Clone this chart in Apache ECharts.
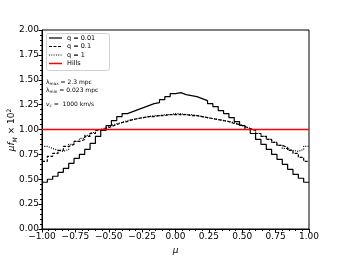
<!DOCTYPE html>
<html><head><meta charset="utf-8">
<script src="https://cdn.jsdelivr.net/npm/echarts@6/dist/echarts.min.js"></script>
<style>html,body{margin:0;padding:0;background:#fff}#c{width:344px;height:258px}</style>
</head><body><div id="c"></div>
<script>
// Histogram: 50 bins on mu in [-1, 1]
const muMin = -1, muMax = 1;
const xTicks = [-1.00, -0.75, -0.50, -0.25, 0.00, 0.25, 0.50, 0.75, 1.00];
const yTicks = [0.00, 0.25, 0.50, 0.75, 1.00, 1.25, 1.50, 1.75, 2.00];
const seriesNames = ['q = 0.01', 'q = 0.1', 'q = 1', 'Hills'];
const q001 = [0.47,0.50,0.53,0.57,0.61,0.66,0.71,0.75,0.80,0.86,
              0.93,0.99,1.04,1.09,1.13,1.16,1.18,1.20,1.22,1.24,
              1.26,1.27,1.30,1.33,1.36,1.37,1.35,1.34,1.33,1.31,
              1.29,1.26,1.23,1.19,1.16,1.12,1.08,1.04,1.00,0.96,
              0.90,0.85,0.80,0.75,0.70,0.65,0.60,0.55,0.51,0.47];
const q01 = [0.68,0.73,0.76,0.79,0.83,0.85,0.88,0.90,0.93,0.96,
             0.99,1.01,1.03,1.05,1.07,1.08,1.10,1.11,1.12,1.13,
             1.13,1.14,1.14,1.15,1.15,1.15,1.15,1.14,1.14,1.13,
             1.12,1.11,1.10,1.09,1.08,1.06,1.05,1.03,1.01,0.99,
             0.96,0.93,0.90,0.87,0.84,0.82,0.79,0.76,0.72,0.68];
const q1 = [0.83,0.81,0.79,0.78,0.80,0.85,0.88,0.91,0.94,0.97,
            1.00,1.02,1.04,1.06,1.07,1.09,1.10,1.11,1.12,1.13,
            1.14,1.14,1.15,1.15,1.16,1.16,1.15,1.15,1.14,1.13,
            1.12,1.11,1.10,1.09,1.08,1.07,1.05,1.03,1.01,0.99,
            0.96,0.93,0.90,0.87,0.84,0.81,0.79,0.78,0.80,0.83];
const hillsValue = 1.0;
const annotations = ['{l|λ}{s|max}{t| = 2.3 mpc}', '{l|λ}{s|min}{t| = 0.023 mpc}', '{v|v}{s|c}{t| =  1000 km/s}'];
const yLabel = '{a|μf}{s|M}{b| × 10}{p|2}';

const seriesColors = ['#000000', '#000000', '#000000', 'rgb(255,0,0)'];
const seriesDash = ['solid', [3,1.5], [1,1.3], 'solid'];

function stepData(vals){
  const w = (muMax - muMin) / vals.length;
  const d = vals.map((v,i)=>[muMin + i*w, v]);
  d.push([muMax, vals[vals.length-1]]);
  return d;
}
const fmt = v => { const s = Math.abs(v).toFixed(2); return v < 0 ? '\u2212' + s : s; };
const font = 'DejaVu Sans';
const chart = echarts.init(document.getElementById('c'), null, {renderer:'canvas'});
const lineBase = {type:'line', step:'end', symbol:'none', showSymbol:false, animation:false};

// manual legend (box + samples + labels)
const legendX = 46, legendY = 33, rowH = 8.5;
const legendGraphics = [{type:'rect', shape:{x:legendX+0.5, y:legendY+0.5, width:63, height:37, r:2},
  style:{fill:'rgba(255,255,255,0.8)', stroke:'#d0d0d0', lineWidth:1}, z:10}];
seriesNames.forEach((n,i)=>{
  const yy = legendY + 5 + i*rowH;
  legendGraphics.push({type:'line', shape:{x1:legendX+3, y1:yy, x2:legendX+16, y2:yy},
    style:{stroke:seriesColors[i], lineWidth:i===3?1.5:1.2, lineDash: seriesDash[i]==='solid'?null:seriesDash[i]}, z:11});
  legendGraphics.push({type:'text', x:legendX+21, y:yy, style:{text:n, fontSize:6.5, fontFamily:font, fill:'#000', verticalAlign:'middle'}, z:11});
});

chart.setOption({
  animation:false,
  color:seriesColors,
  textStyle:{fontFamily:font},
  grid:{left:42, right:35, top:30, bottom:29, show:true, borderColor:'#000', borderWidth:1, containLabel:false, outerBoundsMode:'none'},
  xAxis:{type:'value', min:muMin, max:muMax, interval:0.25,
    name:'μ', nameLocation:'middle', nameGap:16,
    nameTextStyle:{fontSize:9, fontStyle:'italic', fontFamily:font, color:'#000'},
    axisLine:{onZero:false, lineStyle:{color:'#000', width:1}},
    axisTick:{show:true, length:3.5, lineStyle:{color:'#000'}},
    minorTick:{show:true, splitNumber:5, length:2, lineStyle:{color:'#000'}},
    splitLine:{show:false},
    axisLabel:{fontSize:9, color:'#000', margin:3, formatter:v=>fmt(v), fontFamily:font}
  },
  yAxis:{type:'value', min:0, max:2, interval:0.25,
    axisLine:{show:true, onZero:false, lineStyle:{color:'#000', width:1}},
    axisTick:{show:true, length:3.5, lineStyle:{color:'#000'}},
    minorTick:{show:true, splitNumber:5, length:2, lineStyle:{color:'#000'}},
    splitLine:{show:false},
    axisLabel:{fontSize:9, color:'#000', margin:3, formatter:v=>fmt(v), fontFamily:font}
  },
  graphic:legendGraphics.concat([
    {type:'text', x:12, y:130, rotation:Math.PI/2, style:{text:yLabel, align:'center', verticalAlign:'middle', fill:'#000', rich:{
      a:{fontSize:9, fontFamily:font, fontStyle:'italic', lineHeight:12},
      b:{fontSize:9, fontFamily:font, lineHeight:12},
      s:{fontSize:6, fontFamily:font, fontStyle:'italic', lineHeight:12, verticalAlign:'bottom'},
      p:{fontSize:6, fontFamily:font, lineHeight:12, verticalAlign:'top'}}}},
    {type:'text', left:46, top:79, style:{text:annotations[0]+'\n'+annotations[1], rich:{
      l:{fontSize:6, fontFamily:font, lineHeight:8}, v:{fontSize:6, fontFamily:font, fontStyle:'italic', lineHeight:8},
      s:{fontSize:4.2, fontFamily:font, lineHeight:8, verticalAlign:'bottom'}, t:{fontSize:6, fontFamily:font, lineHeight:8}}, fill:'#000'}},
    {type:'text', left:46, top:101, style:{text:annotations[2], rich:{
      v:{fontSize:6, fontFamily:font, fontStyle:'italic', lineHeight:8},
      s:{fontSize:4.2, fontFamily:font, lineHeight:8, verticalAlign:'bottom'}, t:{fontSize:6, fontFamily:font, lineHeight:8}}, fill:'#000'}}
  ]),
  series:[
    Object.assign({}, lineBase, {name:seriesNames[0], data:stepData(q001), lineStyle:{color:seriesColors[0], width:1.2, type:seriesDash[0]}, itemStyle:{color:seriesColors[0]}}),
    Object.assign({}, lineBase, {name:seriesNames[1], data:stepData(q01), lineStyle:{color:seriesColors[1], width:1.2, type:seriesDash[1]}, itemStyle:{color:seriesColors[1]}}),
    Object.assign({}, lineBase, {name:seriesNames[2], data:stepData(q1), lineStyle:{color:seriesColors[2], width:1.2, type:seriesDash[2]}, itemStyle:{color:seriesColors[2]}}),
    {type:'line', name:seriesNames[3], symbol:'none', showSymbol:false, animation:false,
     data:[[muMin, hillsValue],[muMax, hillsValue]], lineStyle:{color:seriesColors[3], width:1.5}, itemStyle:{color:seriesColors[3]}, z:3}
  ]
});
</script>
</body></html>
